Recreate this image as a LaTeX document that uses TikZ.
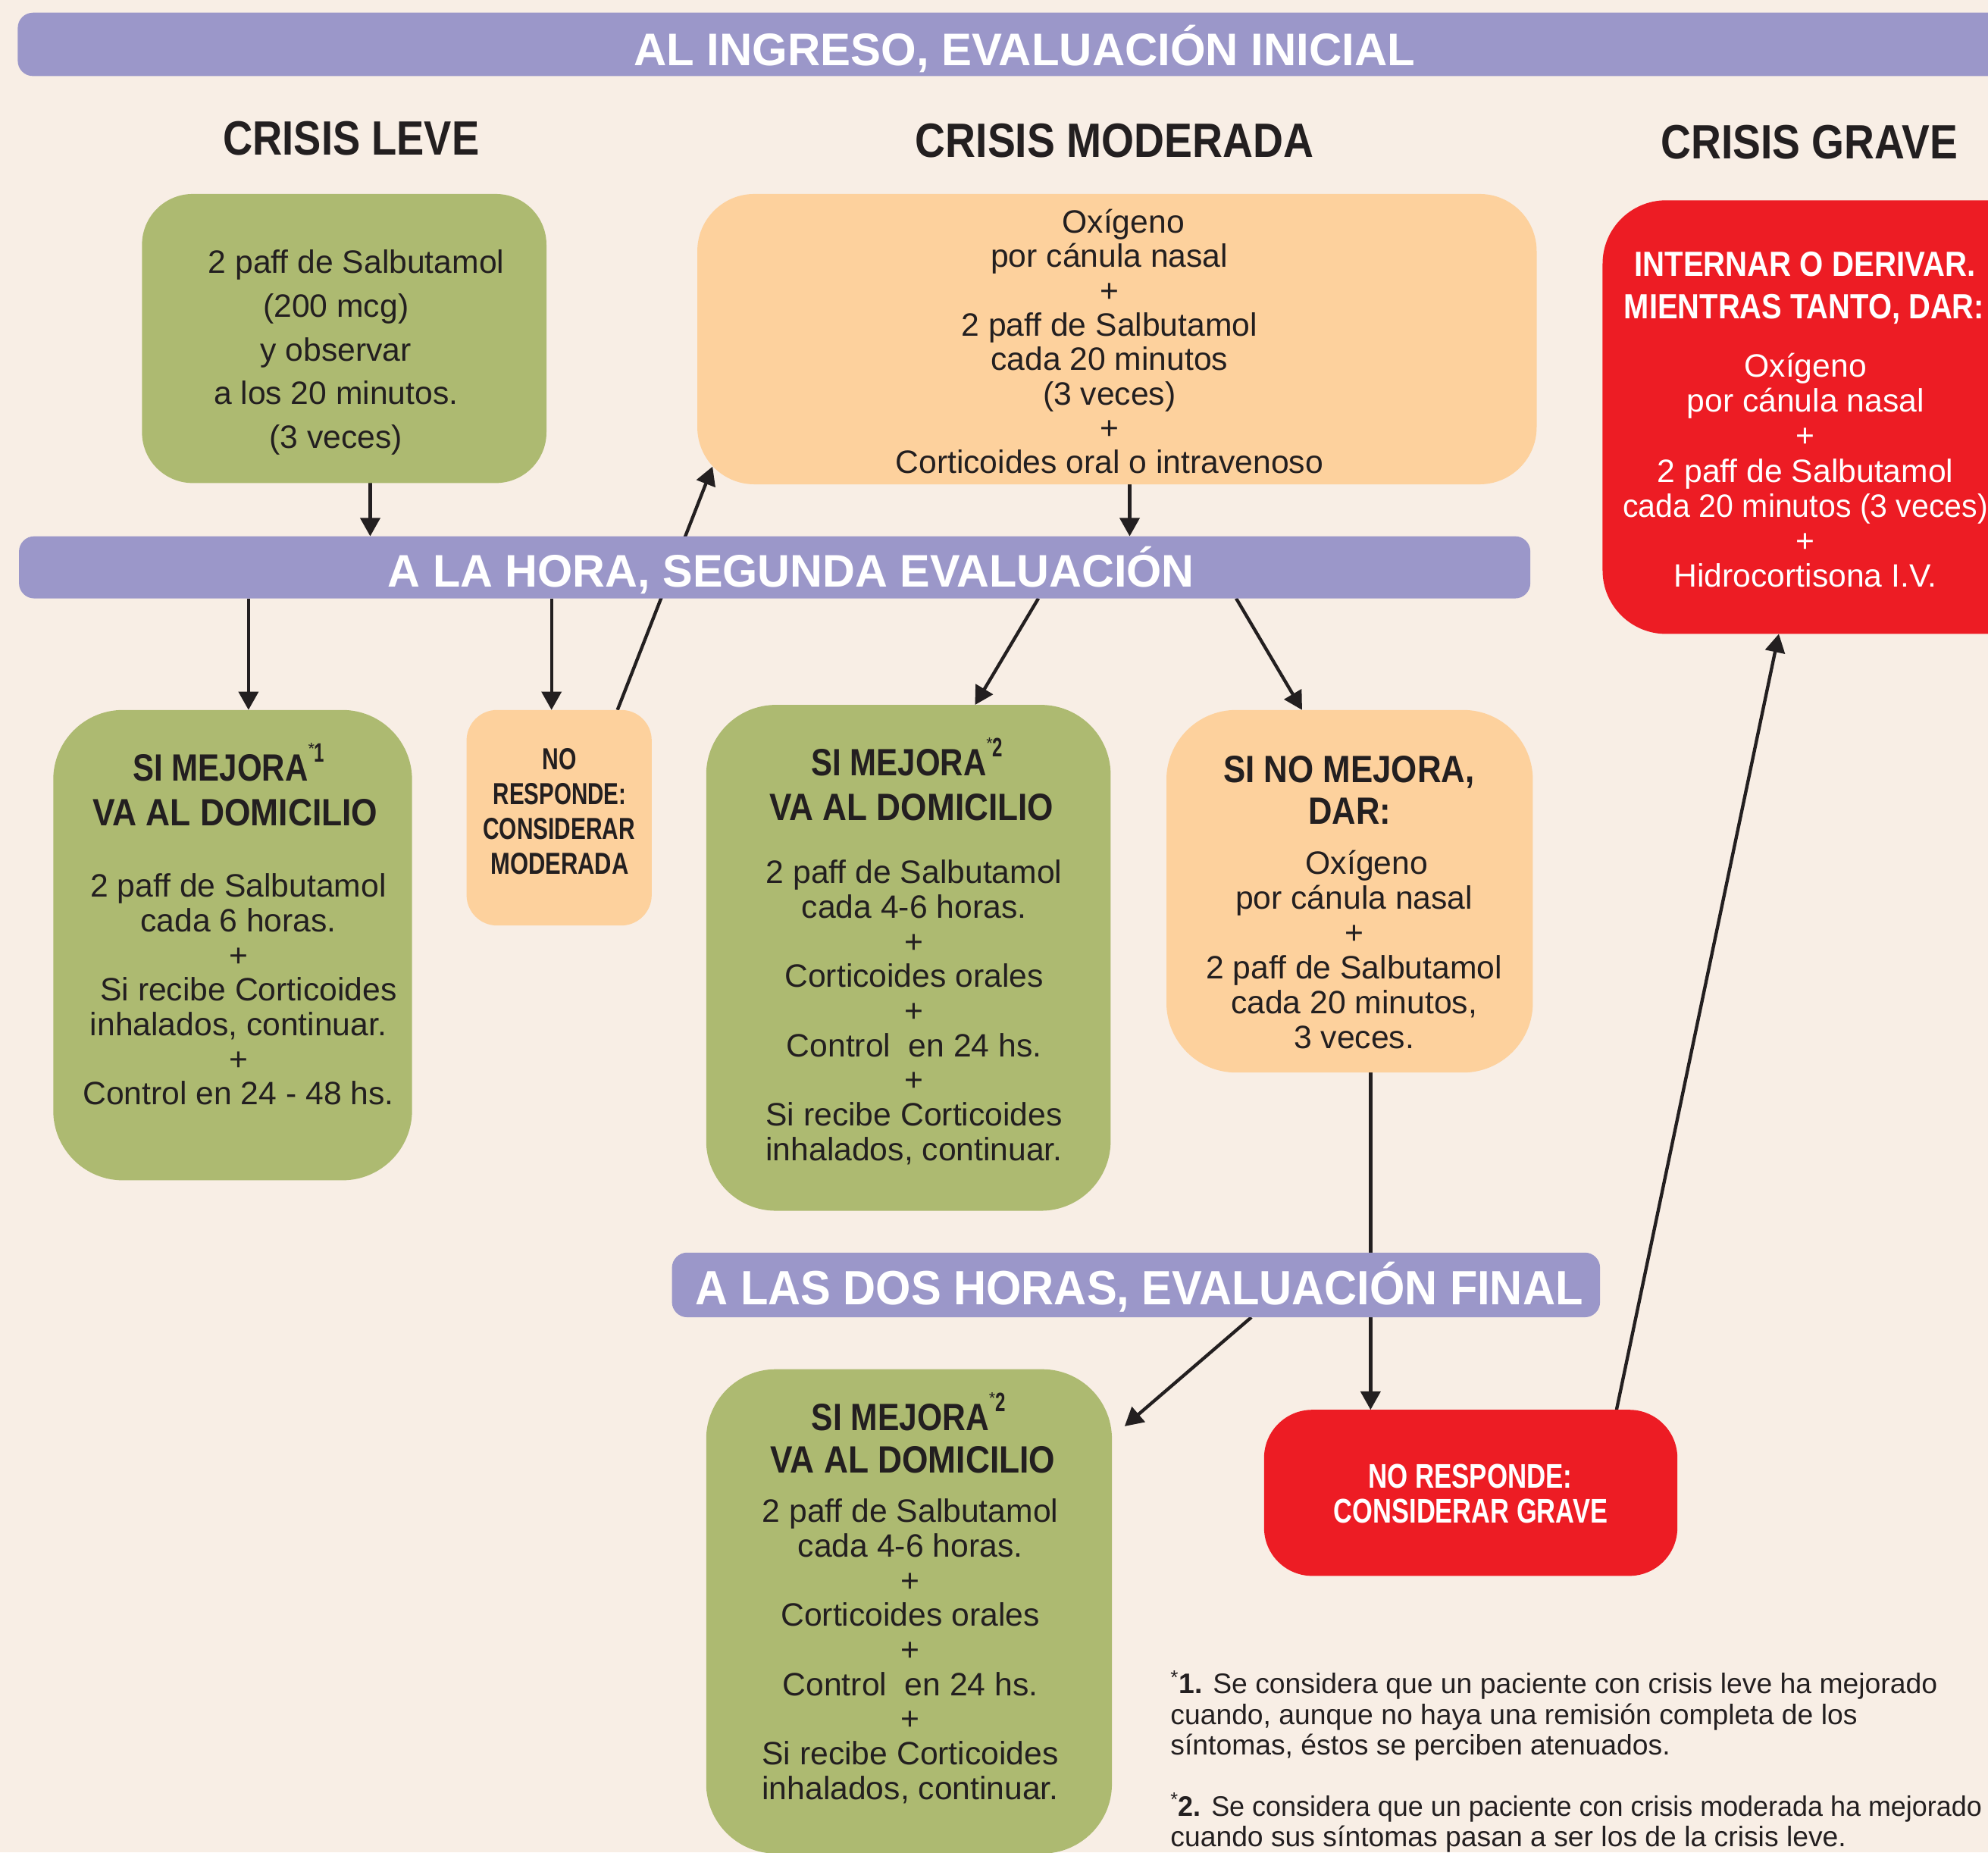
\documentclass[tikz,border=0pt]{standalone}
\usepackage{fontspec}
\usepackage{graphicx}
\setmainfont{Liberation Sans}
\usetikzlibrary{arrows.meta}
\definecolor{bgc}{RGB}{248,238,229}
\definecolor{purp}{RGB}{155,151,201}
\definecolor{grn}{RGB}{173,186,113}
\definecolor{org}{RGB}{253,209,157}
\definecolor{redc}{RGB}{237,28,36}
\definecolor{ink}{RGB}{35,31,32}
\newcommand\fitw[2]{\resizebox{#1}{\height}{#2}}
\newcommand\hsz[1]{\fontsize{#1}{#1}\selectfont\bfseries}
\newcommand\supmark[1]{\raisebox{21pt}{\fontsize{13}{13}\selectfont *}\raisebox{15pt}{\fitw{8pt}{\hsz{21}#1}}}
\pgfdeclarelayer{back}
\pgfdeclarelayer{lines}
\pgfsetlayers{back,lines,main}
\tikzset{
  panel/.style={rectangle, inner sep=0pt, outer sep=0pt, draw=none},
  hd/.style={inner sep=0pt, outer sep=0pt, anchor=base, text=ink},
  body/.style={inner sep=0pt, align=center, text=ink, font=\fontsize{25.5}{27.3}\selectfont},
  foot/.style={inner sep=0pt, anchor=base west, text=ink, font=\fontsize{22.3}{24}\selectfont},
  arr/.style={draw=ink, line width=2.6pt, -{Triangle[length=14.5pt,width=15.5pt]}},
}
\begin{document}
\begin{tikzpicture}[x=1pt,y=-1pt]
\useasboundingbox (0,0) rectangle (1568,1461);
\begin{pgfonlayer}{back}
\fill[bgc] (0,0) rectangle (1568,1461);
\end{pgfonlayer}
\clip (0,0) rectangle (1568,1461);

% bars
\node[panel, fill=purp, rounded corners=12pt, minimum width=1586pt, minimum height=50pt] (bar1) at (807,35) {};
\node[panel, fill=purp, rounded corners=12pt, minimum width=1192pt, minimum height=49pt] (bar2) at (611,447.5) {};
\node[panel, fill=purp, rounded corners=12pt, minimum width=732pt, minimum height=51pt] (bar3) at (896,1013.5) {};

% boxes
\node[panel, fill=grn, rounded corners=40pt, minimum width=319pt, minimum height=228pt] (b1) at (271.5,267) {};
\node[panel, fill=org, rounded corners=45pt, minimum width=662pt, minimum height=229pt] (b2) at (881,267.5) {};
\node[panel, fill=redc, rounded corners=50pt, minimum width=376pt, minimum height=342pt] (b3) at (1452,329) {};
\node[panel, fill=grn, rounded corners=55pt, minimum width=283pt, minimum height=371pt] (m1) at (183.5,745.5) {};
\node[panel, fill=org, rounded corners=24pt, minimum width=146pt, minimum height=170pt] (nr) at (441,645) {};
\node[panel, fill=grn, rounded corners=55pt, minimum width=319pt, minimum height=399pt] (m2) at (716.5,755.5) {};
\node[panel, fill=org, rounded corners=55pt, minimum width=289pt, minimum height=286pt] (sn) at (1064.5,703) {};
\node[panel, fill=grn, rounded corners=55pt, minimum width=320pt, minimum height=382pt] (m3) at (717,1271) {};
\node[panel, fill=redc, rounded corners=38pt, minimum width=326pt, minimum height=131pt] (ng) at (1160,1177.5) {};

% connectors
\begin{pgfonlayer}{lines}
\draw[arr] ([xshift=20.5pt]b1.south) -- ([xshift=-319pt]bar2.north);
\draw[arr] ([xshift=10pt]b2.south) -- ([xshift=280pt]bar2.north);
\draw[arr] ([xshift=46pt]nr.north) -- ([xshift=12pt,yshift=14pt]b2.south west);
\draw[arr] ([xshift=-415pt]bar2.south) -- ([xshift=12.5pt]m1.north);
\draw[arr] ([xshift=-176pt]bar2.south) -- ([xshift=-6pt]nr.north);
\draw[arr] ([xshift=208pt]bar2.south) -- ([xshift=52.5pt]m2.north);
\draw[arr] ([xshift=364pt]bar2.south) -- ([xshift=-37.5pt]sn.north);
\draw[arr] ([xshift=16.5pt]sn.south) -- ([xshift=-79pt]ng.north);
\draw[arr] ([xshift=91pt]bar3.south) -- ([xshift=10pt,yshift=-45pt]m3.north east);
\draw[arr] ([xshift=115pt]ng.north) -- ([xshift=-49pt]b3.south);
\end{pgfonlayer}

% headings
\node[hd, text=white] (h0) at (808,52) {\fitw{616pt}{\hsz{36}AL INGRESO, EVALUACIÓN INICIAL}};
\node[hd] (hl) at (277,122) {\fitw{202pt}{\hsz{38}CRISIS LEVE}};
\node[hd] (hm) at (879,124) {\fitw{314pt}{\hsz{38}CRISIS MODERADA}};
\node[hd] (hg) at (1427,125.5) {\fitw{234pt}{\hsz{38}CRISIS GRAVE}};
\node[hd, text=white] (h2) at (624,463) {\fitw{636pt}{\hsz{36}A LA HORA, SEGUNDA EVALUACIÓN}};
\node[hd, text=white] (h3) at (898.5,1029) {\fitw{700pt}{\hsz{38}A LAS DOS HORAS, EVALUACIÓN FINAL}};

% box 1
\node[body, font=\fontsize{25.5}{34.5}\selectfont] (t1) at (265,278) {\hspace*{32pt}2 paff de Salbutamol\\(200 mcg)\\y observar\\a los 20 minutos.\\(3 veces)};
% box 2
\node[body, font=\fontsize{25.5}{27.1}\selectfont] (t2) at (875,269.5) {\hspace*{22pt}Oxígeno\\por cánula nasal\\+\\2 paff de Salbutamol\\cada 20 minutos\\(3 veces)\\+\\Corticoides oral o intravenoso};
% box 3 (grave)
\node[hd, text=white] (g1) at (1423.5,218) {\fitw{269pt}{\hsz{27.6}INTERNAR O DERIVAR.}};
\node[hd, text=white] (g2) at (1423,251.6) {\fitw{284pt}{\hsz{27.6}MIENTRAS TANTO, DAR:}};
\node[body, text=white, font=\fontsize{25.5}{27.67}\selectfont] (t3) at (1424,371) {Oxígeno\\por cánula nasal\\+\\2 paff de Salbutamol\\\fitw{288pt}{cada 20 minutos (3 veces)}\\+\\Hidrocortisona I.V.};

% m1
\node[hd, anchor=base west] (m1a) at (105,616) {\fitw{138pt}{\hsz{30}SI MEJORA}\supmark{1}};
\node[hd] (m1b) at (185.5,651) {\fitw{225pt}{\hsz{30}VA AL DOMICILIO}};
\node[body] (m1t) at (188,780.5) {2 paff de Salbutamol\\cada 6 horas.\\+\\\hspace*{16pt}Si recibe Corticoides\\inhalados, continuar.\\+\\Control en 24 - 48 hs.};

% nr
\node[hd] (nr1) at (441.5,607) {\fitw{27pt}{\hsz{24}NO}};
\node[hd] (nr2) at (441.5,634.5) {\fitw{105pt}{\hsz{24}RESPONDE:}};
\node[hd] (nr3) at (441,662) {\fitw{120pt}{\hsz{24}CONSIDERAR}};
\node[hd] (nr4) at (441.5,689.5) {\fitw{109pt}{\hsz{24}MODERADA}};

% m2
\node[hd, anchor=base west] (m2a) at (640,612) {\fitw{138pt}{\hsz{30}SI MEJORA}\supmark{2}};
\node[hd] (m2b) at (719,647) {\fitw{224pt}{\hsz{30}VA AL DOMICILIO}};
\node[body] (m2t) at (721,798.5) {2 paff de Salbutamol\\cada 4-6 horas.\\+\\Corticoides orales\\+\\Control~ en 24 hs.\\+\\Si recibe Corticoides\\inhalados, continuar.};

% sn
\node[hd] (sn1) at (1064,617) {\fitw{198pt}{\hsz{30}SI NO MEJORA,}};
\node[hd] (sn2) at (1064.5,650) {\fitw{65pt}{\hsz{30}DAR:}};
\node[body, font=\fontsize{25.5}{27.6}\selectfont] (snt) at (1068,749) {\hspace*{20pt}Oxígeno\\por cánula nasal\\+\\2 paff de Salbutamol\\cada 20 minutos,\\3 veces.};

% m3
\node[hd, anchor=base west] (m3a) at (640,1128.5) {\fitw{140pt}{\hsz{30}SI MEJORA}\supmark{2}};
\node[hd] (m3b) at (720,1162) {\fitw{224.5pt}{\hsz{30}VA AL DOMICILIO}};
\node[body] (m3t) at (718,1302.5) {2 paff de Salbutamol\\cada 4-6 horas.\\+\\Corticoides orales\\+\\Control~ en 24 hs.\\+\\Si recibe Corticoides\\inhalados, continuar.};

% ng
\node[hd, text=white] (ng1) at (1159.6,1173.5) {\fitw{161pt}{\hsz{27}NO RESPONDE:}};
\node[hd, text=white] (ng2) at (1160,1201) {\fitw{216pt}{\hsz{27}CONSIDERAR GRAVE}};

% footnotes
\node[foot] (f1a) at (923,1336) {\textsuperscript{*}\textbf{1.} Se considera que un paciente con crisis leve ha mejorado};
\node[foot] (f1b) at (923,1360) {cuando, aunque no haya una remisión completa de los};
\node[foot] (f1c) at (923,1384) {síntomas, éstos se perciben atenuados.};
\node[foot] (f2a) at (923,1432.5) {\fitw{640pt}{\textsuperscript{*}\textbf{2.} Se considera que un paciente con crisis moderada ha mejorado}};
\node[foot] (f2b) at (923,1456.5) {cuando sus síntomas pasan a ser los de la crisis leve.};
\end{tikzpicture}
\end{document}
